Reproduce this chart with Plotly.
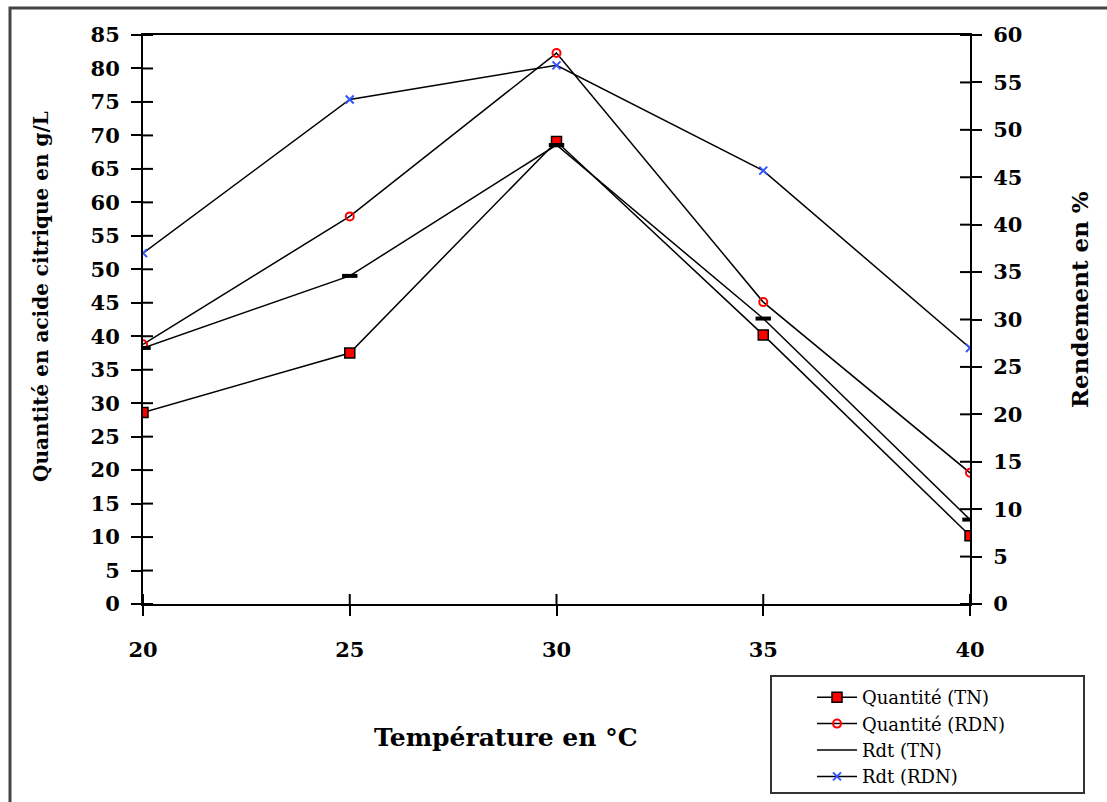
import plotly.graph_objects as go

temperature = [20, 25, 30, 35, 40]
quantite_tn = [28.6, 37.5, 69.1, 40.2, 10.2]
quantite_rdn = [38.8, 57.9, 82.3, 45.1, 19.6]
rdt_tn = [27.0, 34.6, 48.4, 30.1, 8.9]
rdt_rdn = [37.0, 53.2, 56.8, 45.7, 27.0]

left_ticks = list(range(0, 90, 5))
right_ticks = list(range(0, 65, 5))
x_ticks = [20, 25, 30, 35, 40]

SERIF = "DejaVu Serif"
W, H = 1107, 802
L, R, T, B = 143, 970, 35, 604
TICK = 10


def px(xp):
    return (xp - L) / (R - L)


def py(yp):
    return (B - yp) / (B - T)


fig = go.Figure()

fig.add_trace(go.Scatter(
    x=temperature, y=quantite_tn, name="Quantité (TN)", mode="lines+markers",
    line=dict(color="black", width=1.5),
    marker=dict(symbol="square", size=10, color="#ff0000", line=dict(color="black", width=1.5)),
    xaxis="x", yaxis="y"))
fig.add_trace(go.Scatter(
    x=temperature, y=quantite_rdn, name="Quantité (RDN)", mode="lines+markers",
    line=dict(color="black", width=1.5),
    marker=dict(symbol="circle-open", size=8, color="#ff0000", line=dict(color="#ff0000", width=2)),
    xaxis="x", yaxis="y"))
fig.add_trace(go.Scatter(
    x=temperature, y=rdt_tn, name="Rdt (TN)", mode="lines",
    line=dict(color="black", width=1.5), xaxis="x", yaxis="y2"))
fig.add_trace(go.Scatter(
    x=temperature, y=rdt_tn, name="Rdt (TN)", mode="markers", showlegend=False,
    marker=dict(symbol="line-ew", size=11, color="black", line=dict(color="black", width=4)),
    xaxis="x", yaxis="y2"))
fig.add_trace(go.Scatter(
    x=temperature, y=rdt_rdn, name="Rdt (RDN)", mode="lines+markers",
    line=dict(color="black", width=1.5),
    marker=dict(symbol="x-thin", size=8, color="#3355ff", line=dict(color="#3355ff", width=2)),
    xaxis="x", yaxis="y2"))

tickfont = dict(family=SERIF, size=21, color="black", weight="bold")
tick_common = dict(showgrid=False, zeroline=False, ticklen=TICK, tickwidth=2, tickcolor="black")

# inner halves of the crossing tick marks, placed at the tick values
tick_line = dict(color="black", width=2)
inner_ticks = []
for v in left_ticks:
    inner_ticks.append(dict(type="line", xref="paper", yref="y", x0=0, x1=TICK / (R - L),
                            y0=v, y1=v, line=tick_line, layer="above"))
for v in right_ticks:
    inner_ticks.append(dict(type="line", xref="paper", yref="y2", x0=1 - TICK / (R - L), x1=1,
                            y0=v, y1=v, line=tick_line, layer="above"))
for v in x_ticks:
    inner_ticks.append(dict(type="line", xref="x", yref="paper", x0=v, x1=v,
                            y0=0, y1=TICK / (B - T), line=tick_line, layer="above"))

fig.update_layout(
    width=W, height=H,
    margin=dict(l=L, r=W - R, t=T, b=H - B, pad=0, autoexpand=False),
    paper_bgcolor="white", plot_bgcolor="white",
    font=dict(family=SERIF, color="black"),
    showlegend=True,
    xaxis=dict(range=[20, 40], tickvals=x_ticks, ticktext=[str(v) for v in x_ticks],
               showline=True, linecolor="black", linewidth=2, mirror=True, ticks="outside",
               tickfont=tickfont, ticklabelstandoff=16, automargin=False, **tick_common),
    yaxis=dict(range=[0, 85], tickvals=left_ticks, ticktext=[str(v) for v in left_ticks],
               showline=True, linecolor="black", linewidth=2, ticks="outside",
               tickfont=tickfont, ticklabelstandoff=7, automargin=False, **tick_common),
    yaxis2=dict(range=[0, 60], tickvals=right_ticks, ticktext=[str(v) for v in right_ticks],
                overlaying="y", side="right", anchor="x",
                showline=True, linecolor="black", linewidth=2, ticks="outside",
                tickfont=tickfont, ticklabelstandoff=7, automargin=False, **tick_common),
    legend=dict(x=px(812), y=py(679), xanchor="left", yanchor="top",
                bgcolor="rgba(0,0,0,0)", borderwidth=0,
                font=dict(family=SERIF, size=18, color="black"),
                itemwidth=40, tracegroupgap=0),
    shapes=[
        dict(type="rect", xref="paper", yref="paper",
             x0=px(10), x1=px(1120), y0=py(8), y1=py(820),
             line=dict(color="#444", width=3), layer="below"),
        dict(type="rect", xref="paper", yref="paper",
             x0=px(771), x1=px(1084), y0=py(676), y1=py(793),
             line=dict(color="#333", width=2), fillcolor="white", layer="below"),
    ] + inner_ticks,
    annotations=[
        dict(text="<b>Température en °C</b>", xref="paper", yref="paper",
             x=px(506), y=py(737), showarrow=False, xanchor="center", yanchor="middle",
             font=dict(family=SERIF, size=25, color="black")),
        dict(text="<b>Quantité en acide citrique en g/L</b>", xref="paper", yref="paper",
             x=px(41), y=py(297), showarrow=False, textangle=-90, xanchor="center", yanchor="middle",
             font=dict(family=SERIF, size=20, color="black")),
        dict(text="<b>Rendement en %</b>", xref="paper", yref="paper",
             x=px(1079), y=py(300), showarrow=False, textangle=-90, xanchor="center", yanchor="middle",
             font=dict(family=SERIF, size=23, color="black")),
    ],
)

fig.write_html("out.html")
